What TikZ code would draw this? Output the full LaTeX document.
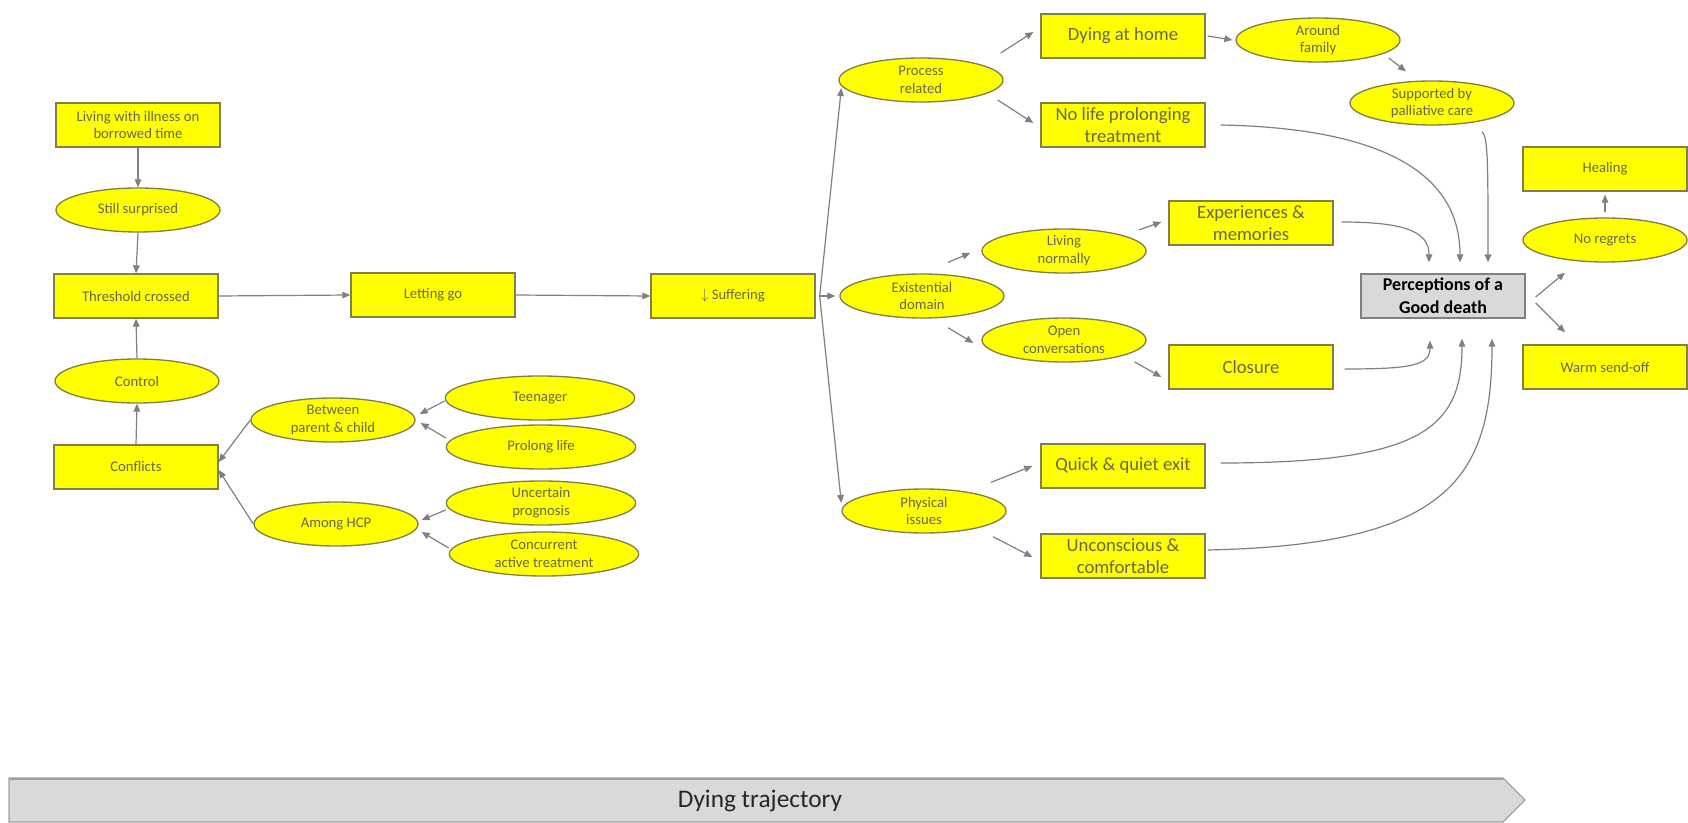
\documentclass[tikz,border=0pt]{standalone}
\usepackage{fontspec}
\setmainfont{Carlito}
\usetikzlibrary{shapes.geometric,arrows.meta}

\definecolor{boxyellow}{RGB}{255,255,0}
\definecolor{boxline}{RGB}{128,128,72}
\definecolor{labeltxt}{RGB}{104,104,80}
\definecolor{linkgray}{RGB}{128,128,128}
\definecolor{trajfill}{RGB}{217,217,217}
\definecolor{trajline}{RGB}{160,160,160}

\tikzset{every picture/.style={line width=0.75pt}}
\tikzset{
  yrect/.style={draw=boxline, fill=boxyellow, line width=1pt, minimum width=123pt, minimum height=33pt,
    inner sep=1pt, align=center, text=labeltxt, font=\fontsize{11}{13.3}\selectfont},
  yoval/.style={yrect, ellipse, inner sep=-1pt},
  yovalwide/.style={yoval, minimum width=142pt},
  ybig/.style={yrect, font=\fontsize{14}{16.3}\selectfont},
  gbox/.style={draw=linkgray, fill=trajfill, line width=1pt, minimum width=123pt, minimum height=33pt,
    inner sep=1pt, align=center, font=\fontsize{13.5}{17}\selectfont\bfseries},
  link/.style={draw=linkgray, line width=0.9pt, -{Triangle[length=6pt,width=5pt]}},
}

\begin{document}
\begin{tikzpicture}[x=0.75pt,y=0.75pt,yscale=-1,xscale=1]
\useasboundingbox (0,0) rectangle (1688,823);

% Left column
\node (lvg) at (138,125) [yrect] {Living with illness on\\borrowed time};
\node (sur) at (138,210) [yoval] {Still surprised};
\node (thr) at (136,296) [yrect] {Threshold crossed};
\node (ctl) at (137,381) [yoval] {Control};
\node (cnf) at (136,467) [yrect] {Conflicts};
\node (let) at (433,295) [yrect] {Letting go};
\node (suf) at (733,296) [yrect] {$\downarrow$ Suffering};

% Conflicts branches
\node (btw) at (333,420) [yoval] {Between\\parent \& child};
\node (hcp) at (336,524) [yoval] {Among HCP};
\node (tee) at (540,398) [yovalwide] {Teenager};
\node (pro) at (541,447) [yovalwide] {Prolong life};
\node (unc) at (541,503) [yovalwide] {Uncertain\\prognosis};
\node (cct) at (544,554) [yovalwide] {Concurrent\\active treatment};

% Domains
\node (prc) at (921,80) [yoval] {Process\\related};
\node (exi) at (922,296) [yoval] {Existential\\domain};
\node (phy) at (924,511) [yoval] {Physical\\issues};

\node (dah) at (1123,36) [ybig] {Dying at home};
\node (nlp) at (1123,125) [ybig] {No life prolonging\\treatment};
\node (afm) at (1318,40) [yoval] {Around\\family};
\node (spc) at (1432,103) [yoval] {Supported by\\palliative care};
\node (lnm) at (1064,251) [yoval] {Living\\normally};
\node (exp) at (1251,223) [ybig] {Experiences \&\\memories};
\node (opc) at (1064,340) [yoval] {Open\\conversations};
\node (clo) at (1251,367) [ybig] {Closure};
\node (qqe) at (1123,466) [ybig] {Quick \& quiet exit};
\node (ucc) at (1123,556) [ybig] {Unconscious \&\\comfortable};

% Good death and after
\node (gdd) at (1443,296) [gbox] {Perceptions of a\\Good death};
\node (hea) at (1605,169) [yrect] {Healing};
\node (nor) at (1605,240) [yoval] {No regrets};
\node (wsf) at (1605,367) [yrect] {Warm send-off};

%Straight Lines
\draw [link] (lvg.south) -- (sur.north);
\draw [link] (sur.south) -- (thr.north);
\draw [link] (ctl.north) -- (thr.south);
\draw [link] (cnf.north) -- (ctl.south);
\draw [link] (thr.east) -- (let.west);
\draw [link] (let.east) -- (suf.west);
\draw [link] (btw.west) -- ([shift={(0,-5)}]cnf.east);
\draw [link] (hcp.west) -- ([shift={(0,3)}]cnf.east);
\draw [link] ([shift={(0,3)}]tee.west) -- ([shift={(4,-6)}]btw.east);
\draw [link] ([shift={(0,-9)}]pro.west) -- ([shift={(5,3)}]btw.east);
\draw [link] ([shift={(0,7)}]unc.west) -- ([shift={(3,-4)}]hcp.east);
\draw [link] ([shift={(0,-6)}]cct.west) -- ([shift={(3,8)}]hcp.east);

\draw [link] ([shift={(4,0)}]suf.east) -- ([shift={(3,8)}]prc.west);
\draw [link] ([shift={(4,0)}]suf.east) -- ([shift={(-4,0)}]exi.west);
\draw [link] ([shift={(4,0)}]suf.east) -- ([shift={(0,-8)}]phy.west);

\draw [link] ([shift={(-3,-27)}]prc.east) -- ([shift={(-7,-4)}]dah.west);
\draw [link] ([shift={(-6,20)}]prc.east) -- ([shift={(-7,-2)}]nlp.west);
\draw [link] ([shift={(2,0)}]dah.east) -- ([shift={(-3,0)}]afm.west);
\draw [link] ([shift={(-12,18)}]afm.east) -- ([shift={(-26,-9)}]spc.north);
\draw [link] ([shift={(26,-11)}]exi.north) -- ([shift={(-11,2)}]lnm.west);
\draw [link] ([shift={(-8,-21)}]lnm.east) -- ([shift={(-7,-1)}]exp.west);
\draw [link] ([shift={(26,9)}]exi.south) -- ([shift={(-8,3)}]opc.west);
\draw [link] ([shift={(-12,22)}]opc.east) -- ([shift={(-7,10)}]clo.west);
\draw [link] ([shift={(67,-6)}]phy.north) -- ([shift={(-8,0)}]qqe.west);
\draw [link] ([shift={(69,3)}]phy.south) -- ([shift={(-8,1)}]ucc.west);

\draw [link] ([shift={(0,-5)}]nor.north) -- ([shift={(0,3)}]hea.south);
\draw [link] ([shift={(10,1)}]gdd.east) -- ([shift={(-40,10)}]nor.south);
\draw [link] ([shift={(10,7)}]gdd.east) -- ([shift={(-40,-12)}]wsf.north);

%Curve Lines
\draw [link] ([shift={(15,0)}]nlp.east) .. controls +(160,3) and +(0,-90) .. ([shift={(17,-11)}]gdd.north);
\draw [link] ([shift={(8,-1)}]exp.east) .. controls +(65,0) and +(0,-30) .. ([shift={(-14,-11)}]gdd.north);
\draw [link] ([shift={(50,6)}]spc.south) .. controls +(6,5) and +(0,-100) .. ([shift={(45,-11)}]gdd.north);
\draw [link] ([shift={(11,2)}]clo.east) .. controls +(65,0) and +(0,25) .. ([shift={(-13,22)}]gdd.south);
\draw [link] ([shift={(15,-3)}]qqe.east) .. controls +(200,0) and +(0,90) .. ([shift={(19,20)}]gdd.south);
\draw [link] ([shift={(2,-6)}]ucc.east) .. controls +(240,-5) and +(0,140) .. ([shift={(49,20)}]gdd.south);

% Dying trajectory
\draw [draw=trajline, fill=trajfill, line width=1pt] (9,778) -- (1503,778) -- (1525,800) -- (1503,822) -- (9,822) -- cycle;
\draw [draw=trajline, line width=2pt] (9,779) -- (1503,779);
\node (traj) at (760,801) [text=black!85, font=\fontsize{19}{22}\selectfont] {Dying trajectory};
\end{tikzpicture}
\end{document}
